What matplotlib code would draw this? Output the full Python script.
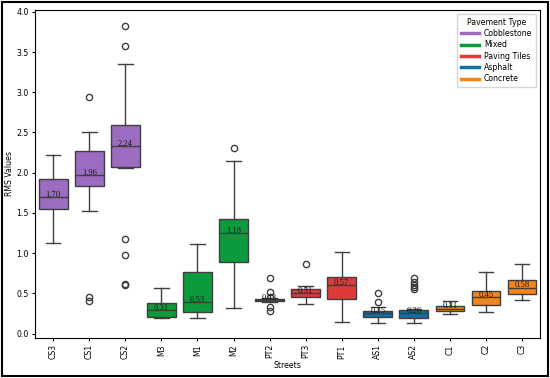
import numpy as np
import matplotlib.pyplot as plt
from matplotlib.lines import Line2D
from matplotlib.patches import Rectangle

# Box statistics, one entry per street
streets = ['CS3', 'CS1', 'CS2', 'M3', 'M1', 'M2', 'PT2', 'PT3', 'PT1',
           'AS1', 'AS2', 'C1', 'C2', 'C3']
pavement = ['Cobblestone', 'Cobblestone', 'Cobblestone', 'Mixed', 'Mixed', 'Mixed',
            'Paving Tiles', 'Paving Tiles', 'Paving Tiles', 'Asphalt', 'Asphalt',
            'Concrete', 'Concrete', 'Concrete']
whislo = [1.13, 1.53, 2.06, 0.19, 0.19, 0.32, 0.39, 0.37, 0.15, 0.13, 0.13, 0.24, 0.27, 0.42]
q1 = [1.55, 1.84, 2.07, 0.21, 0.265, 0.885, 0.40, 0.45, 0.435, 0.205, 0.20, 0.28, 0.35, 0.49]
median = [1.70, 1.97, 2.33, 0.29, 0.39, 1.25, 0.415, 0.505, 0.60, 0.25, 0.25, 0.31, 0.455, 0.57]
q3 = [1.92, 2.27, 2.59, 0.385, 0.77, 1.42, 0.43, 0.555, 0.70, 0.28, 0.29, 0.34, 0.53, 0.665]
whishi = [2.22, 2.51, 3.35, 0.57, 1.11, 2.15, 0.44, 0.59, 1.02, 0.33, 0.31, 0.40, 0.76, 0.86]
fliers = [[], [2.94, 0.45, 0.41], [3.83, 3.58, 1.18, 0.98, 0.62, 0.61], [], [], [2.31],
          [0.69, 0.52, 0.46, 0.33, 0.28], [0.87], [], [0.50, 0.39],
          [0.69, 0.64, 0.61, 0.58, 0.55], [], [], []]
means = [1.70, 1.96, 2.24, 0.31, 0.53, 1.18, 0.43, 0.51, 0.57, 0.25, 0.26, 0.31, 0.45, 0.58]

types = ['Cobblestone', 'Mixed', 'Paving Tiles', 'Asphalt', 'Concrete']
type_colors = ['#9b6cc0', '#0c9a3c', '#df3a3a', '#0f6fa6', '#f58518']
color_of = dict(zip(types, type_colors))

fs = 5.6
fig = plt.figure(figsize=(5.5, 3.78), dpi=100)
ax = fig.add_axes([0.064, 0.106, 0.918, 0.868])

stats = []
for i, s in enumerate(streets):
    stats.append(dict(label=s, whislo=whislo[i], q1=q1[i], med=median[i],
                      q3=q3[i], whishi=whishi[i], fliers=fliers[i]))

edge = '#3f3f3f'
bp = ax.bxp(stats, positions=np.arange(len(streets)), widths=0.8,
            patch_artist=True, manage_ticks=False,
            boxprops=dict(edgecolor=edge, linewidth=1),
            medianprops=dict(color=edge, linewidth=1),
            whiskerprops=dict(color=edge, linewidth=1),
            capprops=dict(color=edge, linewidth=1),
            flierprops=dict(marker='o', markerfacecolor='none',
                            markeredgecolor=edge, markersize=4.5, linewidth=0))
for patch, p in zip(bp['boxes'], pavement):
    patch.set_facecolor(color_of[p])

# mean labels drawn over the boxes
for i, m in enumerate(means):
    ax.annotate(f'{m:.2f}', (i, median[i]), xytext=(0, -1.2),
                textcoords='offset points', ha='center', va='bottom',
                fontsize=6.2, family='Liberation Serif', color='#1a1a1a')

ax.set_xlim(-0.5, len(streets) - 0.5)
ax.set_ylim(-0.054, 4.025)
ax.set_xticks(np.arange(len(streets)))
ax.set_xticklabels(streets, rotation=90, fontsize=fs)
ax.set_yticks(np.arange(0, 4.01, 0.5))
ax.tick_params(axis='y', labelsize=fs)
ax.tick_params(length=2.5, width=0.8, pad=2)
ax.set_xlabel('Streets', fontsize=fs, labelpad=1)
ax.set_ylabel('RMS Values', fontsize=fs, labelpad=2)

handles = [Line2D([0], [0], color=c, lw=2.5) for c in type_colors]
ax.legend(handles, types, title='Pavement Type', loc='upper right',
          fontsize=fs, title_fontsize=fs, handlelength=2.4, borderpad=0.5,
          labelspacing=0.3, handletextpad=0.6)

# thin black frame around the whole figure
fig.patches.append(Rectangle((0.004, 0.006), 0.992, 0.988, transform=fig.transFigure,
                             fill=False, edgecolor='black', linewidth=1.5))

plt.savefig('out.png', dpi=100)
